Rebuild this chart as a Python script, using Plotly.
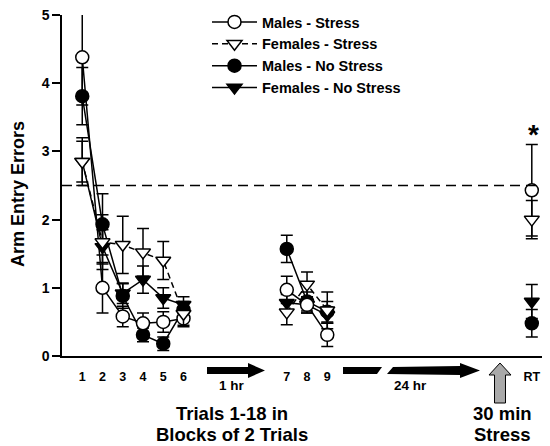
import plotly.graph_objects as go

# ---------------- data ----------------
session1_blocks = ["1", "2", "3", "4", "5", "6"]
session2_blocks = ["7", "8", "9"]
retention_label = "RT"
y_ticks = [0, 1, 2, 3, 4, 5]

males_stress_mean = [4.38, 1.00, 0.58, 0.48, 0.50, 0.55, 0.97, 0.75, 0.31, 2.43]
males_stress_se = [0.70, 0.37, 0.15, 0.15, 0.15, 0.12, 0.20, 0.12, 0.17, 0.67]
females_stress_mean = [2.85, 1.67, 1.63, 1.52, 1.40, 0.62, 0.64, 1.05, 0.67, 2.00]
females_stress_se = [0.35, 0.40, 0.42, 0.35, 0.28, 0.17, 0.18, 0.18, 0.27, 0.28]
males_nostress_mean = [3.81, 1.93, 0.88, 0.31, 0.18, 0.68, 1.57, 0.80, 0.65, 0.48]
males_nostress_se = [0.42, 0.45, 0.18, 0.10, 0.10, 0.12, 0.20, 0.14, 0.15, 0.20]
females_nostress_mean = [2.85, 1.60, 0.92, 1.12, 0.85, 0.75, 0.78, 0.75, 0.60, 0.80]
females_nostress_se = [0.30, 0.25, 0.15, 0.20, 0.15, 0.12, 0.12, 0.12, 0.12, 0.25]
criterion = 2.5

# ---------------- x layout (positions on numeric axis) ----------------
session2_offset = 4.1
rt_position = 23.2
x_s1 = [i + 1 for i in range(len(session1_blocks))]
x_s2 = [i + 7 + session2_offset for i in range(len(session2_blocks))]
x_rt = [rt_position]
tick_vals = x_s1 + x_s2 + x_rt
tick_text = session1_blocks + session2_blocks + [retention_label]


def with_gaps(vals):
    a, b, c = vals[:6], vals[6:9], vals[9:]
    return a + [None] + b + [None] + c


x_all = x_s1 + [None] + x_s2 + [None] + x_rt

FONT = "Liberation Sans, Arial, sans-serif"
OFF = 8  # page body margin
W, H = 550 - OFF, 446 - OFF
L, T = 62 - OFF, 15 - OFF
PW, PH = 486, 341
R = W - L - PW
B = H - T - PH


def px(xp):  # page pixel -> paper
    return (xp - OFF - L) / PW


def py(yp):
    return (T + PH - (yp - OFF)) / PH


series = [
    ("Females - No Stress", females_nostress_mean, females_nostress_se, "triangle-down", "solid", 4),
    ("Males - No Stress", males_nostress_mean, males_nostress_se, "circle", "solid", 3),
    ("Males - Stress", males_stress_mean, males_stress_se, "circle-open", "solid", 1),
    ("Females - Stress", females_stress_mean, females_stress_se, "triangle-down-open", "6px,4px", 2),
]

fig = go.Figure()
for name, mean, se, sym, dash, rank in series:
    filled = "open" not in sym
    fig.add_trace(go.Scatter(
        x=x_all, y=with_gaps(mean),
        mode="lines+markers",
        name=name,
        showlegend=False,
        connectgaps=False,
        line=dict(color="black", width=1.5, dash=dash),
        marker=dict(symbol=sym.replace("-open", ""), size=13,
                    color="black" if filled else "white",
                    line=dict(color="black", width=1.5)),
        error_y=dict(type="data", array=with_gaps(se), visible=True,
                     color="black", thickness=1.5, width=6),
    ))

for name, mean, se, sym, dash, rank in sorted(series, key=lambda s: s[5]):
    filled = "open" not in sym
    fig.add_trace(go.Scatter(
        x=[None], y=[None], mode="lines+markers", name=name,
        line=dict(color="black", width=1.5, dash=dash),
        marker=dict(symbol=sym.replace("-open", ""), size=13,
                    color="black" if filled else "white",
                    line=dict(color="black", width=1.5)),
        legendgroup=name, legendrank=rank,
    ))

fig.add_shape(type="line", xref="paper", yref="y", x0=0, x1=1, y0=criterion, y1=criterion,
              line=dict(color="black", width=1.5, dash="10px,6px"))


def poly(points, fill="black", lw=0, lc="black"):
    path = "M " + " L ".join(f"{px(a):.5f},{py(b):.5f}" for a, b in points) + " Z"
    fig.add_shape(type="path", xref="paper", yref="paper", path=path,
                  fillcolor=fill, line=dict(color=lc, width=lw))


poly([(207, 367), (248, 367), (248, 363), (265, 370.5), (248, 378), (248, 374), (207, 374)])
poly([(343, 367), (382, 367), (377, 374), (343, 374)])
poly([(393, 367), (460, 366), (460, 363), (480, 370.5), (460, 378), (460, 375), (387, 374)])
poly([(500, 363), (511, 375), (505.5, 375), (505.5, 403), (494.5, 403), (494.5, 375), (489, 375)],
     fill="#a9a9a9", lw=1)

ann_font = dict(family=FONT, color="black", weight="bold")
annos = [
    ("1 hr", 232, 385, 13.5, 0),
    ("24 hr", 410, 385, 13.5, 0),
    ("Trials 1-18 in", 232, 413, 18.5, 0),
    ("Blocks of 2 Trials", 232, 434, 18.5, 0),
    ("30 min", 502, 413, 18.5, 0),
    ("Stress", 502, 434, 18.5, 0),
    ("*", 533, 134, 28, 0),
    ("Arm Entry Errors", 18, 194, 18, -90),
]
for text, xx, yy, size, ang in annos:
    fig.add_annotation(text=text, xref="paper", yref="paper", x=px(xx), y=py(yy),
                       xanchor="center", yanchor="middle", showarrow=False, textangle=ang,
                       font=dict(size=size, **ann_font))

fig.update_layout(
    width=W, height=H,
    margin=dict(l=L, r=R, t=T, b=B, autoexpand=False),
    paper_bgcolor="white", plot_bgcolor="white",
    font=dict(family=FONT, color="black"),
    legend=dict(x=px(207), y=py(6), xanchor="left", yanchor="top",
                bgcolor="rgba(0,0,0,0)", traceorder="grouped", tracegroupgap=0,
                itemwidth=45,
                font=dict(size=14.5, family=FONT, weight="bold")),
    xaxis=dict(range=[0, 24], showline=True, linecolor="black", linewidth=1.5,
               showgrid=False, zeroline=False, ticks="",
               tickvals=tick_vals, ticktext=tick_text,
               tickfont=dict(size=12.5, family=FONT, weight="bold"),
               ticklabelstandoff=8),
    yaxis=dict(range=[0, 5], showline=True, linecolor="black", linewidth=1.5,
               showgrid=False, zeroline=False, ticks="outside", ticklen=8, tickwidth=1.5,
               tickcolor="black", tickvals=y_ticks, ticklabeloverflow="allow",
               tickfont=dict(size=14, family=FONT, weight="bold")),
)

fig.write_html("out.html")
